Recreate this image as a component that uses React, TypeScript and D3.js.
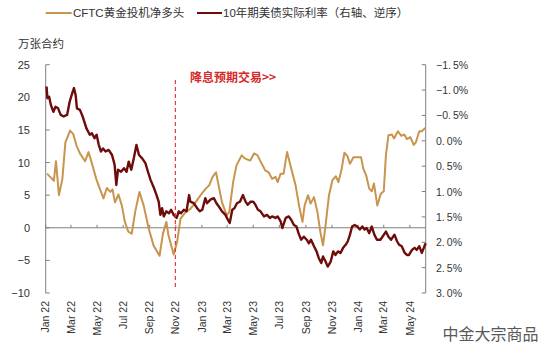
import React from 'react';
import * as d3 from 'd3';

// CFTC gold speculative net long (10k contracts)
const cftcDates = [
  '2022-01-04', '2022-01-16', '2022-01-20', '2022-01-25', '2022-02-01', '2022-02-09', '2022-02-16', '2022-02-27',
  '2022-03-06', '2022-03-14', '2022-03-22', '2022-04-03', '2022-04-11', '2022-04-18', '2022-04-30', '2022-05-16',
  '2022-05-24', '2022-06-01', '2022-06-06', '2022-06-12', '2022-06-20', '2022-06-28', '2022-07-05', '2022-07-13',
  '2022-07-21', '2022-07-29', '2022-08-08', '2022-08-18', '2022-08-30', '2022-09-10', '2022-09-24', '2022-10-02',
  '2022-10-10', '2022-10-15', '2022-10-27', '2022-11-04', '2022-11-12', '2022-11-24', '2022-12-05', '2022-12-17',
  '2022-12-29', '2023-01-10', '2023-01-18', '2023-01-26', '2023-02-03', '2023-02-10', '2023-02-17', '2023-02-28',
  '2023-03-06', '2023-03-15', '2023-03-23', '2023-04-04', '2023-04-12', '2023-04-24', '2023-05-03', '2023-05-11',
  '2023-05-21', '2023-05-29', '2023-06-06', '2023-06-14', '2023-06-22', '2023-06-27', '2023-07-04', '2023-07-11',
  '2023-07-19', '2023-07-31', '2023-08-08', '2023-08-16', '2023-08-24', '2023-08-29', '2023-09-06', '2023-09-12',
  '2023-09-20', '2023-09-28', '2023-10-05', '2023-10-11', '2023-10-17', '2023-10-25', '2023-11-02', '2023-11-10',
  '2023-11-16', '2023-11-23', '2023-11-30', '2023-12-07', '2023-12-13', '2023-12-21', '2023-12-31', '2024-01-08',
  '2024-01-13', '2024-01-20', '2024-01-27', '2024-02-02', '2024-02-07', '2024-02-15', '2024-02-23', '2024-03-01',
  '2024-03-06', '2024-03-12', '2024-03-20', '2024-03-25', '2024-04-03', '2024-04-11', '2024-04-18', '2024-04-24',
  '2024-05-02', '2024-05-10', '2024-05-15', '2024-05-23', '2024-05-29', '2024-06-06',
];
const cftcValues = [
  8.3, 7.5, 7.2, 10.2, 5.0, 7.5, 13.1, 14.9,
  14.4, 12.6, 11.4, 10.2, 11.6, 10.1, 7.3, 4.5,
  6.1, 5.5, 5.9, 3.9, 5.1, 3.4, 0.9, -0.6,
  -0.9, 2.4, 5.5, 3.4, -0.2, -2.7, -4.3, -0.9,
  0.9, -1.2, -4.1, -2.2, 1.4, 2.4, 2.9, 3.9,
  5.0, 6.0, 6.5, 7.8, 8.5, 6.2, 3.9, 1.9,
  2.4, 7.0, 9.6, 11.1, 10.6, 10.3, 11.4, 11.1,
  9.8, 8.8, 8.5, 7.5, 7.8, 7.0, 8.3, 8.3,
  11.6, 8.5, 6.5, 3.4, 0.9, 3.4, 5.0, 3.7,
  4.7, 2.4, -0.7, -2.7, 0.35, 5.0, 7.3, 7.9,
  7.0, 8.8, 11.5, 11.0, 9.8, 10.8, 10.8, 10.8,
  9.1, 8.0, 6.0, 5.6, 6.8, 3.4, 5.2, 5.6,
  11.1, 14.2, 14.3, 13.7, 14.8, 14.1, 14.3, 13.6,
  13.9, 12.7, 13.1, 14.8, 14.8, 15.3,
];

// 10Y US real yield (%), right axis reversed
const rateDates = [
  '2022-01-03', '2022-01-05', '2022-01-09', '2022-01-13', '2022-01-19', '2022-01-24', '2022-01-30', '2022-02-05',
  '2022-02-12', '2022-02-20', '2022-02-26', '2022-03-04', '2022-03-08', '2022-03-12', '2022-03-15', '2022-03-22',
  '2022-03-27', '2022-03-31', '2022-04-06', '2022-04-14', '2022-04-19', '2022-04-25', '2022-04-30', '2022-05-05',
  '2022-05-10', '2022-05-15', '2022-05-21', '2022-05-28', '2022-06-05', '2022-06-11', '2022-06-15', '2022-06-19',
  '2022-06-26', '2022-07-03', '2022-07-09', '2022-07-14', '2022-07-20', '2022-07-26', '2022-08-01', '2022-08-07',
  '2022-08-14', '2022-08-22', '2022-08-28', '2022-09-03', '2022-09-11', '2022-09-17', '2022-09-22', '2022-09-26',
  '2022-09-30', '2022-10-04', '2022-10-10', '2022-10-16', '2022-10-21', '2022-10-27', '2022-11-03', '2022-11-08',
  '2022-11-13', '2022-11-20', '2022-11-26', '2022-12-02', '2022-12-05', '2022-12-13', '2022-12-21', '2022-12-27',
  '2023-01-02', '2023-01-09', '2023-01-13', '2023-01-21', '2023-01-29', '2023-02-04', '2023-02-10', '2023-02-17',
  '2023-02-25', '2023-03-03', '2023-03-07', '2023-03-13', '2023-03-18', '2023-03-24', '2023-03-31', '2023-04-07',
  '2023-04-13', '2023-04-18', '2023-04-25', '2023-05-01', '2023-05-06', '2023-05-12', '2023-05-18', '2023-05-26',
  '2023-06-02', '2023-06-09', '2023-06-14', '2023-06-22', '2023-06-27', '2023-07-04', '2023-07-08', '2023-07-12',
  '2023-07-16', '2023-07-23', '2023-07-29', '2023-08-04', '2023-08-10', '2023-08-16', '2023-08-21', '2023-08-27',
  '2023-09-03', '2023-09-08', '2023-09-13', '2023-09-20', '2023-09-26', '2023-10-01', '2023-10-07', '2023-10-11',
  '2023-10-17', '2023-10-22', '2023-10-29', '2023-11-04', '2023-11-09', '2023-11-15', '2023-11-21', '2023-11-27',
  '2023-12-03', '2023-12-08', '2023-12-13', '2023-12-18', '2023-12-24', '2023-12-30', '2024-01-05', '2024-01-11',
  '2024-01-16', '2024-01-21', '2024-01-27', '2024-02-02', '2024-02-08', '2024-02-14', '2024-02-22', '2024-02-27',
  '2024-03-06', '2024-03-12', '2024-03-18', '2024-03-26', '2024-04-01', '2024-04-06', '2024-04-12', '2024-04-19',
  '2024-04-24', '2024-04-29', '2024-05-06', '2024-05-12', '2024-05-17', '2024-05-23', '2024-05-29', '2024-06-04',
  '2024-06-07',
];
const rateValues = [
  -1.07, -0.84, -0.87, -0.71, -0.57, -0.67, -0.64, -0.51,
  -0.48, -0.51, -0.77, -0.94, -1.04, -0.90, -0.64, -0.61,
  -0.51, -0.41, -0.25, -0.12, -0.15, -0.05, -0.12, 0.08,
  0.21, 0.15, 0.21, 0.18, 0.28, 0.47, 0.87, 0.57,
  0.61, 0.54, 0.61, 0.41, 0.57, 0.34, 0.08, 0.28,
  0.34, 0.44, 0.61, 0.77, 0.93, 1.07, 1.20, 1.46,
  1.33, 1.49, 1.39, 1.43, 1.36, 1.46, 1.52, 1.39,
  1.43, 1.36, 1.39, 1.07, 1.20, 1.23, 1.33, 1.39,
  1.36, 1.13, 1.23, 1.16, 1.13, 1.23, 1.30, 1.39,
  1.46, 1.56, 1.62, 1.36, 1.33, 1.23, 1.20, 1.07,
  1.20, 1.26, 1.20, 1.20, 1.26, 1.36, 1.39, 1.49,
  1.46, 1.52, 1.49, 1.52, 1.49, 1.59, 1.72, 1.62,
  1.52, 1.49, 1.56, 1.66, 1.69, 1.85, 1.95, 1.89,
  1.95, 2.02, 1.95, 2.08, 2.18, 2.31, 2.41, 2.28,
  2.38, 2.48, 2.38, 2.18, 2.25, 2.18, 2.21, 2.11,
  2.05, 1.98, 1.85, 1.69, 1.66, 1.69, 1.75, 1.69,
  1.75, 1.72, 1.82, 1.69, 1.85, 1.95, 1.95, 1.89,
  1.79, 1.89, 1.95, 1.85, 1.98, 2.05, 2.08, 2.21,
  2.25, 2.25, 2.15, 2.11, 2.15, 2.08, 2.21, 2.08,
  2.02,
];

const xTickDates = [
  '2022-01-01', '2022-03-01', '2022-05-01', '2022-07-01', '2022-09-01', '2022-11-01', '2023-01-01', '2023-03-01',
  '2023-05-01', '2023-07-01', '2023-09-01', '2023-11-01', '2024-01-01', '2024-03-01', '2024-05-01',
];
const leftTicks = [25, 20, 15, 10, 5, 0, -5, -10];
const rightTicks = [-1.5, -1.0, -0.5, 0, 0.5, 1.0, 1.5, 2.0, 2.5, 3.0];
const markerDate = '2022-10-31';

const GOLD = '#C8944E';
const MAROON = '#6E0C0C';
const AXIS = '#7f7f7f';
const TEXT = '#333333';
const LATIN = '"Liberation Sans", Arial, "Noto Sans CJK SC", sans-serif';
const CJK = '"Noto Sans CJK SC", "Liberation Sans", sans-serif';

const parse = d3.timeParse('%Y-%m-%d');
const fmtMonth = d3.timeFormat('%b %y');

const App = () => {
  const left = 45.7;
  const right = 425.7;
  const top = 64.7;
  const bottom = 293;

  const x = d3.scaleTime()
    .domain([parse('2022-01-01') as Date, parse('2024-06-07') as Date])
    .range([left, right]);
  const yL = d3.scaleLinear().domain([-10, 25]).range([bottom, top]);
  const yR = d3.scaleLinear().domain([3.0, -1.5]).range([bottom, top]);

  const cftc = cftcDates.map((d, i) => ({ date: parse(d) as Date, v: cftcValues[i] }));
  const rate = rateDates.map((d, i) => ({ date: parse(d) as Date, v: rateValues[i] }));

  const cftcLine = d3.line<{ date: Date; v: number }>().x(d => x(d.date)).y(d => yL(d.v));
  const rateLine = d3.line<{ date: Date; v: number }>().x(d => x(d.date)).y(d => yR(d.v));

  const y0 = yL(0);
  const mx = x(parse(markerDate) as Date);

  const fmtPct = (v: number) => {
    const s = Math.abs(v).toFixed(1).replace('.', '.\u2009');
    return (v < 0 ? '\u2212' : '') + s + '%';
  };

  return (
    <svg width={550} height={354} style={{ position: 'absolute', left: 0, top: 0, background: '#fff' }}>
      {/* legend */}
      <line x1={45.7} x2={71.7} y1={13} y2={13} stroke={GOLD} strokeWidth={2} />
      <text x={73} y={13} dominantBaseline="central" fontSize={11.5} fontFamily={LATIN} fill={TEXT}>CFTC黄金投机净多头</text>
      <line x1={197} x2={222} y1={13} y2={13} stroke={MAROON} strokeWidth={2} />
      <text x={223} y={13} dominantBaseline="central" fontSize={11.5} fontFamily={LATIN} fill={TEXT}>10年期美债实际利率（右轴、逆序）</text>

      <text x={18} y={43} dominantBaseline="central" fontSize={11.5} fontFamily={CJK} fill={TEXT}>万张合约</text>

      {/* zero line with month ticks */}
      <line x1={left} x2={right} y1={y0} y2={y0} stroke={AXIS} strokeWidth={1} />
      {xTickDates.map(d => {
        const xx = x(parse(d) as Date);
        return <line key={'t' + d} x1={xx} x2={xx} y1={y0 - 3} y2={y0} stroke={AXIS} strokeWidth={1} />;
      })}

      {/* left axis */}
      <line x1={left} x2={left} y1={top} y2={bottom} stroke={AXIS} strokeWidth={1} />
      {leftTicks.map(t => (
        <g key={'l' + t}>
          <line x1={left} x2={left + 4} y1={yL(t)} y2={yL(t)} stroke={AXIS} />
          <text x={30} y={yL(t)} textAnchor="end" dominantBaseline="central" fontSize={11} fontFamily={LATIN} fill={TEXT}>
            {d3.format('d')(t)}
          </text>
        </g>
      ))}

      {/* right axis */}
      <line x1={right} x2={right} y1={top} y2={bottom} stroke={AXIS} strokeWidth={1} />
      {rightTicks.map(t => (
        <g key={'r' + t}>
          <line x1={right - 4} x2={right} y1={yR(t)} y2={yR(t)} stroke={AXIS} />
          <text x={436} y={yR(t)} dominantBaseline="central" fontSize={10.5} fontFamily={LATIN} fill={TEXT}>
            {fmtPct(t)}
          </text>
        </g>
      ))}

      {/* x labels */}
      {xTickDates.map(d => {
        const xx = x(parse(d) as Date);
        return (
          <text key={'x' + d} transform={`translate(${xx},301) rotate(-90)`} dy="0.35em" textAnchor="end"
            fontSize={10.5} fontFamily={LATIN} fill={TEXT}>
            {fmtMonth(parse(d) as Date)}
          </text>
        );
      })}

      {/* series */}
      <path d={cftcLine(cftc) || ''} fill="none" stroke={GOLD} strokeWidth={2} strokeLinejoin="round" />
      <path d={rateLine(rate) || ''} fill="none" stroke={MAROON} strokeWidth={2.4} strokeLinejoin="round" />

      {/* marker */}
      <line x1={mx} x2={mx} y1={80} y2={289} stroke="#E8383D" strokeWidth={1.2} strokeDasharray="4,3" />
      <text x={190} y={76} dominantBaseline="central" fontSize={12} fontWeight="bold" fontFamily={CJK} fill="#D42A2A">降息预期交易&gt;&gt;</text>

      <text x={442.5} y={340} fontSize={16} fontFamily={CJK} fill="#595959">中金大宗商品</text>
    </svg>
  );
};

export default App;
